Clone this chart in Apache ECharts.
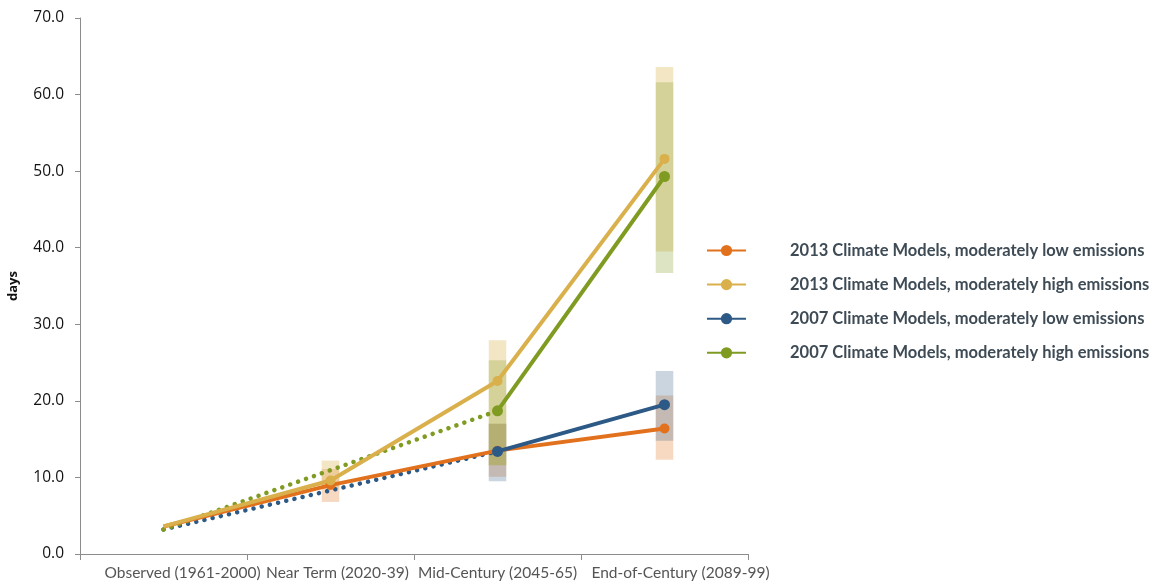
<!DOCTYPE html>
<html>
<head>
<meta charset="utf-8">
<script src="https://cdn.jsdelivr.net/npm/echarts@6/dist/echarts.min.js"></script>
<style>html,body{margin:0;padding:0;background:#fff}#c{width:1157px;height:583px}</style>
</head>
<body>
<div id="c"></div>
<script>
const categories = ['Observed (1961-2000)', 'Near Term (2020-39)', 'Mid-Century (2045-65)', 'End-of-Century (2089-99)'];
const seriesNames = [
  '2013 Climate Models, moderately low emissions',
  '2013 Climate Models, moderately high emissions',
  '2007 Climate Models, moderately low emissions',
  '2007 Climate Models, moderately high emissions'
];
const low2013 = [3.6, 9.0, 13.5, 16.4];
const high2013 = [3.6, 9.6, 22.6, 51.6];
const low2007 = [3.2, null, 13.4, 19.5];
const high2007 = [3.2, null, 18.7, 49.3];
// ranges: [categoryIndex, low, high]
const low2013Range = [[1, 6.8, 11.1], [2, 10.1, 17.0], [3, 12.3, 20.7]];
const high2013Range = [[1, 8.5, 12.2], [2, 11.6, 27.9], [3, 39.5, 63.6]];
const low2007Range = [[2, 9.5, 17.0], [3, 14.8, 23.9]];
const high2007Range = [[2, 11.6, 25.3], [3, 36.7, 61.6]];
const yTicks = [0, 10, 20, 30, 40, 50, 60, 70];

const colors = ['#E2711D', '#D9B04C', '#2C5985', '#7F9B22'];

function rangeSeries(data, color, opacity) {
  return {
    type: 'custom',
    silent: true,
    z: 1,
    data: data,
    renderItem: function (params, api) {
      const i = api.value(0);
      const p1 = api.coord([i, api.value(2)]);
      const p2 = api.coord([i, api.value(1)]);
      const w = api.size([1, 0])[0] * 0.105;
      return {
        type: 'rect',
        shape: { x: p1[0] - w / 2, y: p1[1], width: w, height: p2[1] - p1[1] },
        style: { fill: color, opacity: opacity }
      };
    }
  };
}

function solidData(arr, startIdx) {
  return arr.map((v, i) => {
    if (i < startIdx || v === null) return '-';
    if (i === 0) return { value: v, symbol: 'none' };
    return v;
  });
}
function dottedData(arr, endIdx) {
  return arr.map((v, i) => (i <= endIdx && v !== null) ? v : '-');
}

const labelBase = { fontFamily: 'Lato', fontSize: 15.5, color: '#555' };
const labelShift = [38, 14, 0, 32];
const rich = {};
labelShift.forEach((s, i) => { rich['l' + i] = Object.assign({ padding: [0, 0, 0, s] }, labelBase); });

const lineW = 4;
const chart = echarts.init(document.getElementById('c'));
chart.setOption({
  animation: false,
  grid: { left: 80, right: 409, top: 18, bottom: 29, containLabel: false, outerBoundsMode: 'none' },
  legend: {
    orient: 'vertical',
    left: 706,
    top: 242,
    padding: 0,
    itemWidth: 39,
    itemHeight: 14,
    itemGap: 17.1,
    data: seriesNames,
    textStyle: { fontFamily: 'Lato', fontSize: 16.5, fontWeight: 'bold', color: '#3E4B55', padding: [0, 0, 0, 39] }
  },
  xAxis: {
    type: 'category',
    data: categories,
    boundaryGap: true,
    axisLine: { lineStyle: { color: '#8C8C8C', width: 1 } },
    axisTick: { show: true, length: 6, lineStyle: { color: '#8C8C8C' } },
    axisLabel: Object.assign({
      margin: 11, interval: 0, rich: rich,
      formatter: (v, i) => '{l' + i + '|' + v + '}'
    }, labelBase)
  },
  yAxis: {
    type: 'value',
    min: yTicks[0],
    max: yTicks[yTicks.length - 1],
    interval: 10,
    name: 'days',
    nameLocation: 'middle',
    nameGap: 60,
    nameTextStyle: { fontFamily: 'Open Sans', fontSize: 13, fontWeight: 'bold', color: '#111' },
    axisLine: { show: true, lineStyle: { color: '#8C8C8C', width: 1 } },
    axisTick: { show: true, length: 5, lineStyle: { color: '#8C8C8C' } },
    splitLine: { show: false },
    axisLabel: { fontFamily: 'Open Sans', fontSize: 15.5, color: '#111', margin: 16, formatter: v => v.toFixed(1) }
  },
  series: [
    rangeSeries(low2013Range, colors[0], 0.27),
    rangeSeries(low2007Range, colors[2], 0.25),
    rangeSeries(high2013Range, colors[1], 0.32),
    rangeSeries(high2007Range, colors[3], 0.27),
    {
      name: seriesNames[2] + ' (dotted)', type: 'line', z: 3,
      data: dottedData(low2007, 2), connectNulls: true, showSymbol: false, symbol: 'none',
      lineStyle: { color: colors[2], width: 4.5, type: [0.1, 8.3], cap: 'round' }
    },
    {
      name: seriesNames[3] + ' (dotted)', type: 'line', z: 3,
      data: dottedData(high2007, 2), connectNulls: true, showSymbol: false, symbol: 'none',
      lineStyle: { color: colors[3], width: 4.5, type: [0.1, 8.3], cap: 'round' }
    },
    {
      name: seriesNames[0], type: 'line', z: 4, data: solidData(low2013, 0),
      symbol: 'circle', symbolSize: 10, color: colors[0],
      lineStyle: { color: colors[0], width: lineW }, itemStyle: { color: colors[0] }
    },
    {
      name: seriesNames[1], type: 'line', z: 4, data: solidData(high2013, 0),
      symbol: 'circle', symbolSize: 10, color: colors[1],
      lineStyle: { color: colors[1], width: lineW }, itemStyle: { color: colors[1] }
    },
    {
      name: seriesNames[2], type: 'line', z: 5, data: solidData(low2007, 2),
      symbol: 'circle', symbolSize: 11, color: colors[2],
      lineStyle: { color: colors[2], width: lineW }, itemStyle: { color: colors[2] }
    },
    {
      name: seriesNames[3], type: 'line', z: 5, data: solidData(high2007, 2),
      symbol: 'circle', symbolSize: 11, color: colors[3],
      lineStyle: { color: colors[3], width: lineW }, itemStyle: { color: colors[3] }
    }
  ]
});
</script>
</body>
</html>
